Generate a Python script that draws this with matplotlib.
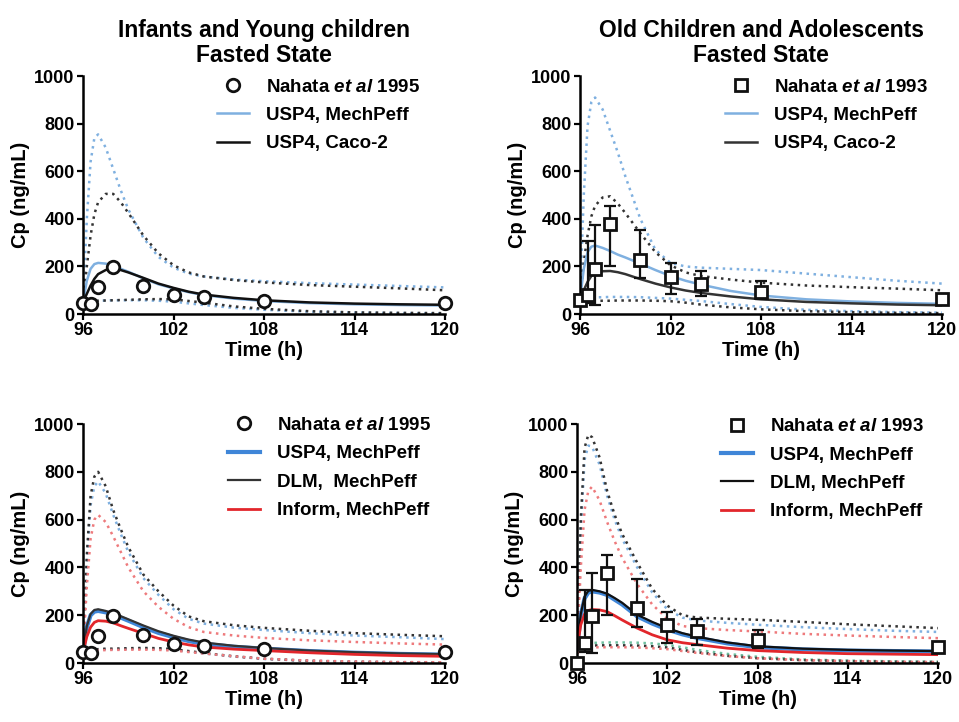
import matplotlib
matplotlib.use("Agg")
import matplotlib.pyplot as plt

plt.rcParams['font.family'] = ['Liberation Sans', 'DejaVu Sans']
plt.rcParams['font.weight'] = 'bold'
plt.rcParams['mathtext.fontset'] = 'custom'
plt.rcParams['mathtext.rm'] = 'Liberation Sans:bold'
plt.rcParams['mathtext.it'] = 'Liberation Sans:italic:bold'

# simulation time grid (h)
t_sim = [96, 96.25, 96.5, 96.75, 97, 97.5, 98, 98.5, 99, 100, 101, 102, 103, 104, 106, 108, 111, 114, 117, 120]

# observed data
t_obs = [96, 96.5, 97, 98, 100, 102, 104, 108, 120]
obs95 = [45, 43, 112, 198, 119, 81, 72, 57, 46]
obs93_top = [60, 80, 188, 378, 227, 154, 126, 94, 62]
obs93_bot = [0, 85, 195, 378, 230, 158, 132, 96, 65]
obs93_hi = [0, 305, 375, 454, 352, 213, 183, 140, 75]
obs93_lo = [0, 45, 40, 200, 150, 85, 75, 62, 50]

# top left: infants, USP4 MechPeff vs Caco-2
tl_mech = [50, 140, 190, 210, 215, 212, 203, 190, 178, 150, 125, 108, 92, 80, 65, 55, 46, 41, 38, 36]
tl_caco = [50, 85, 120, 148, 168, 185, 193, 185, 175, 152, 128, 110, 94, 82, 68, 58, 49, 44, 41, 39]
tl_mech_hi = [50, 400, 640, 740, 755, 700, 610, 520, 440, 320, 240, 195, 170, 158, 145, 138, 130, 124, 118, 112]
tl_caco_hi = [50, 200, 330, 420, 470, 505, 505, 470, 425, 330, 255, 205, 175, 158, 143, 133, 122, 115, 108, 100]
tl_mech_lo = [30, 40, 48, 52, 55, 57, 58, 58, 58, 58, 56, 52, 45, 38, 26, 18, 10, 6, 4, 3]
tl_caco_lo = [40, 48, 53, 55, 56, 57, 58, 59, 60, 62, 63, 62, 55, 48, 32, 22, 12, 7, 5, 4]

# top right: adolescents, USP4 MechPeff vs Caco-2
tr_mech = [60, 190, 260, 283, 288, 278, 265, 250, 238, 212, 185, 160, 140, 124, 97, 78, 62, 53, 47, 43]
tr_caco = [60, 100, 135, 160, 172, 180, 181, 176, 168, 147, 128, 112, 99, 89, 74, 62, 51, 45, 40, 37]
tr_mech_hi = [60, 500, 790, 890, 910, 860, 770, 680, 580, 400, 270, 215, 200, 195, 190, 185, 170, 155, 140, 128]
tr_caco_hi = [60, 220, 330, 410, 455, 490, 495, 465, 425, 340, 260, 205, 175, 160, 145, 132, 120, 113, 107, 100]
tr_mech_lo = [40, 55, 65, 68, 70, 71, 72, 72, 72, 71, 68, 65, 60, 55, 42, 30, 18, 12, 8, 6]
tr_caco_lo = [40, 48, 52, 54, 55, 56, 56, 57, 57, 57, 56, 54, 48, 40, 28, 20, 12, 8, 5, 4]

# bottom left: infants, USP4 / DLM / Inform
bl_usp4 = [45, 150, 200, 215, 218, 212, 203, 190, 177, 150, 126, 108, 92, 80, 68, 60, 50, 43, 38, 35]
bl_dlm = [45, 155, 205, 222, 225, 218, 208, 196, 183, 157, 133, 114, 98, 86, 72, 63, 52, 45, 40, 37]
bl_inform = [45, 110, 150, 170, 177, 175, 168, 156, 145, 124, 103, 88, 76, 67, 58, 52, 43, 36, 31, 28]
bl_usp4_hi = [45, 420, 660, 740, 760, 710, 620, 540, 465, 355, 285, 225, 185, 165, 148, 138, 125, 115, 108, 100]
bl_dlm_hi = [45, 450, 700, 780, 800, 740, 640, 560, 485, 370, 300, 240, 195, 175, 158, 147, 135, 125, 118, 112]
bl_inform_hi = [45, 320, 520, 600, 620, 590, 530, 465, 400, 300, 235, 185, 150, 130, 115, 105, 95, 88, 82, 77]
bl_usp4_lo = [38, 47, 52, 54, 55, 57, 57, 58, 59, 60, 59, 55, 48, 40, 27, 17, 9, 5, 3, 2]
bl_dlm_lo = [40, 50, 55, 57, 58, 60, 60, 61, 62, 63, 62, 58, 50, 42, 28, 18, 9, 5, 3, 2]
bl_inform_lo = [35, 45, 50, 52, 53, 54, 55, 55, 56, 56, 55, 52, 46, 40, 28, 18, 10, 6, 4, 3]

# bottom right: adolescents, USP4 / DLM / Inform
br_usp4 = [60, 200, 270, 295, 300, 295, 285, 265, 245, 195, 165, 140, 120, 105, 82, 66, 57, 52, 50, 48]
br_dlm = [60, 205, 278, 302, 306, 300, 290, 272, 252, 202, 172, 146, 125, 110, 86, 70, 60, 55, 52, 50]
br_inform = [60, 160, 205, 220, 224, 222, 215, 198, 180, 146, 118, 97, 85, 77, 62, 52, 44, 39, 37, 35]
br_usp4_hi = [60, 560, 850, 910, 905, 830, 700, 600, 520, 400, 295, 225, 190, 178, 168, 160, 150, 142, 135, 130]
br_dlm_hi = [60, 600, 900, 955, 945, 860, 720, 620, 540, 420, 310, 240, 200, 190, 185, 181, 172, 162, 154, 146]
br_inform_hi = [60, 400, 640, 720, 738, 680, 590, 510, 440, 330, 245, 185, 155, 146, 138, 132, 122, 115, 109, 104]
br_usp4_lo = [45, 65, 78, 82, 84, 85, 86, 86, 86, 85, 82, 76, 66, 55, 38, 26, 15, 10, 7, 5]
br_dlm_lo = [40, 60, 70, 72, 73, 74, 74, 74, 74, 73, 70, 65, 55, 45, 30, 20, 12, 8, 5, 4]
br_inform_lo = [40, 55, 62, 64, 65, 66, 66, 66, 66, 65, 62, 58, 50, 42, 29, 20, 12, 8, 5, 4]

light_blue = '#7fb0e0'
blue = '#3f86d8'
red = '#e2262b'
black = '#111111'
dot = (0, (1, 1.8))

fig = plt.figure(figsize=(9.59, 7.22), dpi=100)
ax_tl = fig.add_axes([0.0866, 0.565, 0.3775, 0.3296])
ax_tr = fig.add_axes([0.6048, 0.565, 0.3775, 0.3296])
ax_bl = fig.add_axes([0.0866, 0.0817, 0.3775, 0.331])
ax_br = fig.add_axes([0.6017, 0.0817, 0.3765, 0.331])


def style(ax):
    ax.set_xlim(96, 120)
    ax.set_ylim(0, 1000)
    ax.set_xticks([96, 102, 108, 114, 120])
    ax.set_yticks([0, 200, 400, 600, 800, 1000])
    for s in ['top', 'right']:
        ax.spines[s].set_visible(False)
    for s in ['left', 'bottom']:
        ax.spines[s].set_linewidth(1.8)
    ax.tick_params(direction='out', length=4, width=1.6, labelsize=13, pad=2)
    ax.set_ylabel('Cp (ng/mL)', fontsize=14.5, fontweight='bold', labelpad=3)
    ax.set_xlabel('Time (h)', fontsize=14.5, fontweight='bold', labelpad=1)


# top left
ax = ax_tl
ax.plot(t_sim, tl_mech_hi, color=light_blue, ls=dot, lw=1.8)
ax.plot(t_sim, tl_mech_lo, color=light_blue, ls=dot, lw=1.8)
ax.plot(t_sim, tl_caco_hi, color='#333333', ls=dot, lw=1.8)
ax.plot(t_sim, tl_caco_lo, color='#333333', ls=dot, lw=1.8)
ax.plot(t_obs, obs95, 'o', mfc='white', mec=black, mew=2, ms=9, clip_on=False, zorder=5,
        label=r'Nahata $\mathit{et\ al}$ 1995')
ax.plot(t_sim, tl_mech, color=light_blue, lw=1.8, label='USP4, MechPeff')
ax.plot(t_sim, tl_caco, color=black, lw=1.8, label='USP4, Caco-2')
ax.set_title('Infants and Young children\nFasted State', fontsize=16.5, fontweight='bold', pad=10,
             linespacing=1.15)

# top right
ax = ax_tr
ax.plot(t_sim, tr_mech_hi, color=light_blue, ls=dot, lw=1.8)
ax.plot(t_sim, tr_mech_lo, color=light_blue, ls=dot, lw=1.8)
ax.plot(t_sim, tr_caco_hi, color='#333333', ls=dot, lw=1.8)
ax.plot(t_sim, tr_caco_lo, color='#333333', ls=dot, lw=1.8)
err = [[v - lo for v, lo in zip(obs93_top, obs93_lo)], [hi - v for v, hi in zip(obs93_top, obs93_hi)]]
err[0][0] = 0
err[1][0] = 0
ax.errorbar(t_obs, obs93_top, yerr=err, fmt='none', ecolor=black, elinewidth=1.6, capsize=4, capthick=1.6, zorder=4)
ax.plot(t_obs, obs93_top, 's', mfc='white', mec=black, mew=2, ms=9, clip_on=False, zorder=5,
        label=r'Nahata $\mathit{et\ al}$ 1993')
ax.plot(t_sim, tr_mech, color=light_blue, lw=1.8, label='USP4, MechPeff')
ax.plot(t_sim, tr_caco, color='#333333', lw=1.8, label='USP4, Caco-2')
ax.set_title('Old Children and Adolescents\nFasted State', fontsize=16.5, fontweight='bold', pad=10,
             linespacing=1.15)

# bottom left
ax = ax_bl
ax.plot(t_sim, bl_usp4_hi, color=light_blue, ls=dot, lw=1.8)
ax.plot(t_sim, bl_dlm_hi, color='#333333', ls=dot, lw=1.8)
ax.plot(t_sim, bl_inform_hi, color='#ee7a7c', ls=dot, lw=1.8)
ax.plot(t_sim, bl_usp4_lo, color=light_blue, ls=dot, lw=1.8)
ax.plot(t_sim, bl_dlm_lo, color='#333333', ls=dot, lw=1.8)
ax.plot(t_sim, bl_inform_lo, color='#ee7a7c', ls=dot, lw=1.8)
ax.plot(t_obs, obs95, 'o', mfc='white', mec=black, mew=2, ms=9, clip_on=False, zorder=5,
        label=r'Nahata $\mathit{et\ al}$ 1995')
ax.plot(t_sim, bl_usp4, color=blue, lw=3, label='USP4, MechPeff')
ax.plot(t_sim, bl_dlm, color='#333333', lw=1.6, label='DLM,  MechPeff')
ax.plot(t_sim, bl_inform, color=red, lw=2, label='Inform, MechPeff')

# bottom right
ax = ax_br
ax.plot(t_sim, br_usp4_hi, color=light_blue, ls=dot, lw=1.8)
ax.plot(t_sim, br_dlm_hi, color='#333333', ls=dot, lw=1.8)
ax.plot(t_sim, br_inform_hi, color='#ee7a7c', ls=dot, lw=1.8)
ax.plot(t_sim, br_usp4_lo, color='#6fc0a0', ls=dot, lw=1.8)
ax.plot(t_sim, br_dlm_lo, color='#333333', ls=dot, lw=1.8)
ax.plot(t_sim, br_inform_lo, color='#ee7a7c', ls=dot, lw=1.8)
err = [[v - lo for v, lo in zip(obs93_bot, obs93_lo)], [hi - v for v, hi in zip(obs93_bot, obs93_hi)]]
err[0][0] = 0
err[1][0] = 0
ax.errorbar(t_obs, obs93_bot, yerr=err, fmt='none', ecolor=black, elinewidth=1.6, capsize=4, capthick=1.6, zorder=4)
ax.plot(t_obs, obs93_bot, 's', mfc='white', mec=black, mew=2, ms=9, clip_on=False, zorder=5,
        label=r'Nahata $\mathit{et\ al}$ 1993')
ax.plot(t_sim, br_usp4, color=blue, lw=3, label='USP4, MechPeff')
ax.plot(t_sim, br_dlm, color=black, lw=1.6, label='DLM, MechPeff')
ax.plot(t_sim, br_inform, color=red, lw=2, label='Inform, MechPeff')

for ax, x0, y0 in [(ax_tl, 0.37, 0.99), (ax_tr, 0.40, 0.99), (ax_bl, 0.40, 1.03), (ax_br, 0.40, 1.025)]:
    style(ax)
    ax.legend(loc='upper left', bbox_to_anchor=(x0, y0), frameon=False, fontsize=13.5,
              borderpad=0, borderaxespad=0, labelspacing=0.6, handlelength=1.7, handletextpad=0.9)

fig.savefig('out.png', dpi=100)
